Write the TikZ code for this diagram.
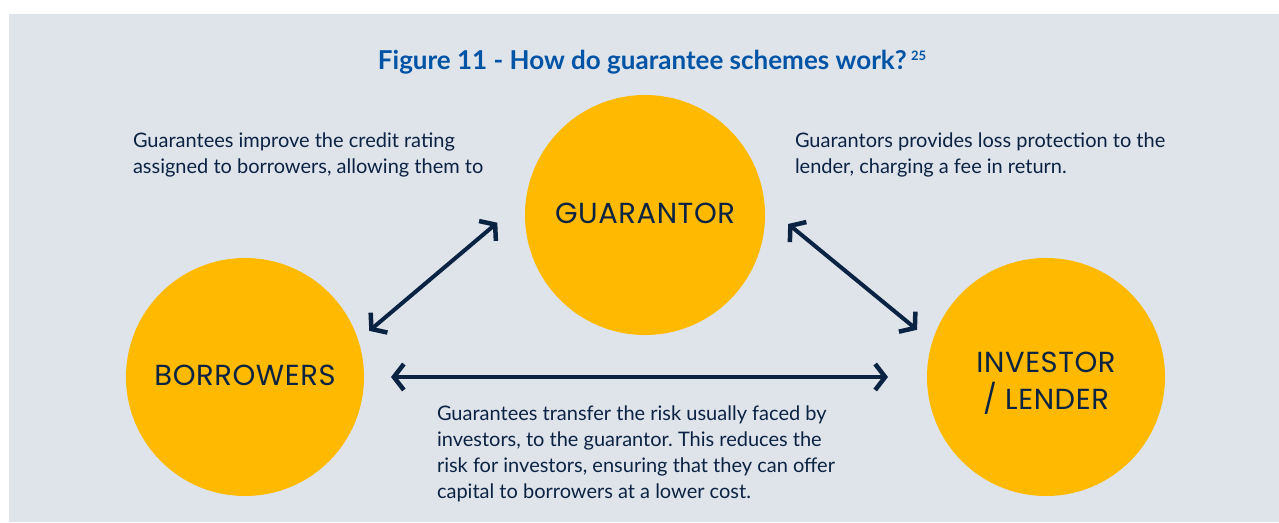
\documentclass[tikz,border=0pt]{standalone}
\usepackage{fontspec}
\setmainfont{Lato}
\newfontfamily\labelfont[LetterSpace=2]{Poppins}
\usetikzlibrary{arrows.meta}
\frenchspacing
\definecolor{panel}{HTML}{DFE3EA}
\definecolor{sun}{HTML}{FFBA00}
\definecolor{navy}{HTML}{0B2343}
\definecolor{titleblue}{HTML}{0054A6}
\tikzset{
  party/.style={circle, fill=sun, draw=none, inner sep=0pt, outer sep=0pt,
    minimum size=238pt, text=navy, align=center,
    font=\labelfont\fontsize{29}{37}\selectfont},
  link/.style={draw=navy, line width=4pt,
    {Straight Barb[length=10pt,width=26pt,line width=4.5pt]}-{Straight Barb[length=10pt,width=26pt,line width=4.5pt]}},
  note/.style={anchor=north west, inner sep=0pt, outer sep=0pt, text=navy,
    align=left, font=\fontsize{20}{26}\selectfont}
}
\begin{document}
\begin{tikzpicture}[x=1pt,y=-1pt]
  \useasboundingbox (0,0) rectangle (1279,522);
  \fill[white] (0,0) rectangle (1279,522);
  \fill[panel] (9,14) rectangle (1279,522);

  % title
  \node[text=titleblue, font=\bfseries\fontsize{26}{30}\selectfont, anchor=base]
    (title) at (652,69) {Figure 11 - How do guarantee schemes work?\,\raisebox{9pt}{\fontsize{13}{13}\selectfont 25}};

  % the three parties
  \node[party, minimum size=240pt, text depth=4pt] (gua) at (645,215) {GUARANTOR};
  \node[party, text depth=4pt] (bor) at (245,377) {BORROWERS};
  \node[party] (inv) at (1046,377) {\rule{0pt}{32pt}INVESTOR\\/ LENDER};

  % two-way relations
  \draw[link, shorten <=14.5pt, shorten >=37.8pt] (bor.18.5) -- (gua.172.3);
  \draw[link, shorten <=30.6pt, shorten >=19.6pt] (gua.5.5) -- (inv.163.1);
  \draw[link, shorten <=27pt, shorten >=39pt] (bor.east) -- (inv.west);

  % explanations
  \node[note] (n1) at (133,133) {Guarantees improve the credit rating\\assigned to borrowers, allowing them to};
  \node[note] (n2) at (795,133) {Guarantors provides loss protection to the\\lender, charging a fee in return.};
  \node[note] (n3) at (437,406) {Guarantees transfer the risk usually faced by\\investors, to the guarantor. This reduces the\\risk for investors, ensuring that they can offer\\capital to borrowers at a lower cost.};
\end{tikzpicture}
\end{document}
